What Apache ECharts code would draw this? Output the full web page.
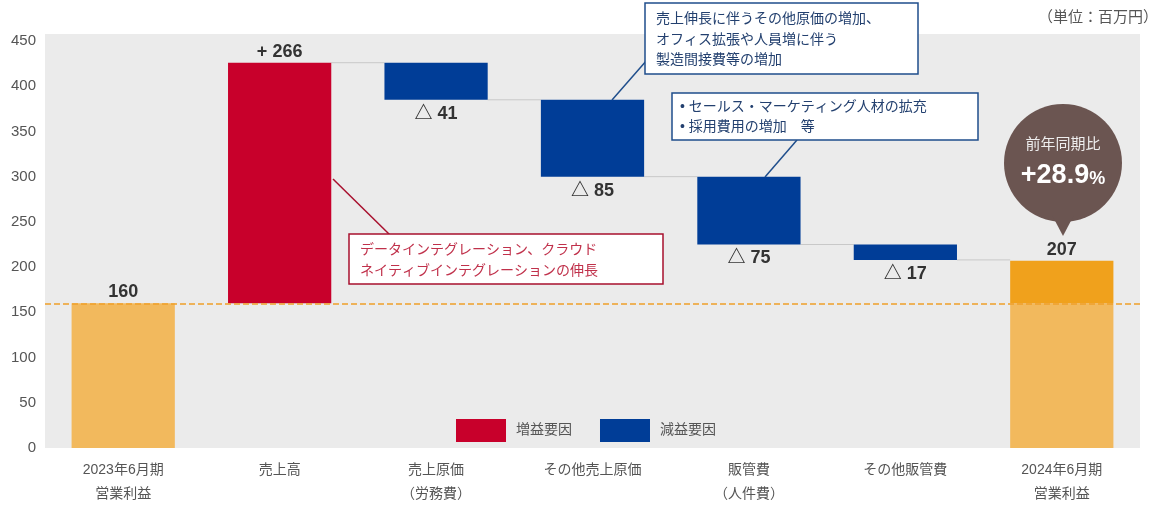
<!DOCTYPE html>
<html><head><meta charset="utf-8">
<script src="https://cdn.jsdelivr.net/npm/echarts@6/dist/echarts.min.js"></script>
<style>html,body{margin:0;padding:0;background:#fff}#c{width:1150px;height:510px}</style>
</head><body><div id="c"></div>
<script>
const categories = ['2023年6月期\n営業利益','売上高','売上原価\n（労務費）','その他売上原価','販管費\n（人件費）','その他販管費','2024年6月期\n営業利益'];
const startValue = 160;
const deltas = [266, -41, -85, -75, -17];
const endValue = 207;
const yTicks = {min: 0, max: 450, interval: 50};

const FONT = '"Liberation Sans", "Noto Sans CJK JP", sans-serif';
const RED = '#C8002B', BLUE = '#003D97', ORANGE_L = '#F2B95D', ORANGE_D = '#F0A11C';

// build waterfall stacks
const n = categories.length;
const base = Array(n).fill('-'), inc = Array(n).fill('-'), dec = Array(n).fill('-');
const totL = Array(n).fill('-'), totD = Array(n).fill('-');
const connectors = [];
let run = startValue;
totL[0] = {value: startValue, label: {show: true, formatter: String(startValue)}};
deltas.forEach((d, k) => {
  const i = k + 1;
  if (d >= 0) { base[i] = run; inc[i] = d; run += d; }
  else { run += d; base[i] = run; dec[i] = -d; }
  connectors.push([i, run]);
});
totL[n-1] = {value: startValue, label: {show: false}};
totD[n-1] = endValue - startValue;

const chart = echarts.init(document.getElementById('c'), null, {renderer: 'canvas', width: 1150, height: 510});
const labelStyle = {fontFamily: FONT, fontSize: 18, fontWeight: 'bold', color: '#333'};
chart.setOption({
  animation: false,
  textStyle: {fontFamily: FONT},
  grid: {left: 45, width: 1095, top: 41, height: 407, containLabel: false},
  legend: {
    left: 451, top: 414, itemWidth: 50, itemHeight: 23, itemGap: 28,
    data: ['増益要因', '減益要因'],
    textStyle: {fontFamily: FONT, fontSize: 14, color: '#555', padding: [0, 0, 0, 5]},
    icon: 'rect', selectedMode: false
  },
  xAxis: {
    type: 'category', data: categories,
    axisLine: {show: false}, axisTick: {show: false},
    axisLabel: {color: '#555', fontSize: 14, lineHeight: 24, margin: 10, fontFamily: FONT}
  },
  yAxis: {
    type: 'value', min: yTicks.min, max: yTicks.max, interval: yTicks.interval,
    splitLine: {show: false}, axisLine: {show: false}, axisTick: {show: false},
    axisLabel: {color: '#555', fontSize: 15, margin: 9, fontFamily: FONT}
  },
  series: [
    {type: 'bar', name: 'base', stack: 'w', data: base, barWidth: '66%', itemStyle: {color: 'transparent'}, silent: true},
    {type: 'bar', name: '増益要因', stack: 'w', data: inc, itemStyle: {color: RED},
      label: {show: true, position: 'top', distance: 2, formatter: p => '+ ' + p.value, ...labelStyle}},
    {type: 'bar', name: '減益要因', stack: 'w', data: dec, itemStyle: {color: BLUE},
      label: {show: true, position: 'bottom', distance: 5, formatter: p => '△ ' + p.value, ...labelStyle}},
    {type: 'bar', name: 'total', stack: 'w', data: totL, itemStyle: {color: ORANGE_L},
      label: {position: 'top', distance: 2, ...labelStyle},
      markLine: {silent: true, symbol: 'none', label: {show: false}, z: 10, emphasis: {disabled: true},
        lineStyle: {color: '#EFA02A', type: [6, 3], width: 1.5, opacity: 1}, data: [{yAxis: startValue}]}},
    {type: 'bar', name: 'totalInc', stack: 'w', data: totD, itemStyle: {color: ORANGE_D},
      label: {show: true, position: 'top', distance: 2, formatter: () => String(endValue), ...labelStyle}},
    {type: 'custom', name: 'conn', data: connectors, silent: true, z: 1,
      renderItem: (params, api) => {
        const p = api.coord([api.value(0), api.value(1)]);
        const cw = api.size([1, 0])[0];
        const bw = cw * 0.66;
        return {type: 'line', shape: {x1: p[0] + bw/2, y1: p[1], x2: p[0] + cw - bw/2, y2: p[1]},
          style: {stroke: '#C8C8C8', lineWidth: 1}};
      }}
  ],
  graphic: [
    {type: 'rect', z: -10, silent: true, shape: {x: 45, y: 34, width: 1095, height: 414}, style: {fill: '#EBEBEB'}},
    {type: 'text', left: 1038, top: 10, style: {text: '（単位：百万円）', font: '15px ' + FONT, fill: '#555'}},
    // red annotation
    {type: 'line', shape: {x1: 333, y1: 179, x2: 390, y2: 235}, style: {stroke: '#A8102E', lineWidth: 1.5}, z: 20},
    {type: 'rect', shape: {x: 349, y: 234, width: 314, height: 50}, style: {fill: '#fff', stroke: '#A8102E', lineWidth: 1.5}, z: 20},
    {type: 'text', x: 360, y: 240, z: 21, style: {text: 'データインテグレーション、クラウド\nネイティブインテグレーションの伸長', font: '14px ' + FONT, fill: '#C0314B', lineHeight: 21}},
    // blue annotation 1
    {type: 'line', shape: {x1: 612, y1: 100, x2: 647, y2: 60}, style: {stroke: '#1F4E8C', lineWidth: 1.5}, z: 20},
    {type: 'rect', shape: {x: 645, y: 3, width: 273, height: 71}, style: {fill: '#fff', stroke: '#1F4E8C', lineWidth: 1.5}, z: 20},
    {type: 'text', x: 656, y: 9, z: 21, style: {text: '売上伸長に伴うその他原価の増加、\nオフィス拡張や人員増に伴う\n製造間接費等の増加', font: '14px ' + FONT, fill: '#23406F', lineHeight: 20.5}},
    // blue annotation 2
    {type: 'line', shape: {x1: 797, y1: 140, x2: 765, y2: 177}, style: {stroke: '#1F4E8C', lineWidth: 1.5}, z: 20},
    {type: 'rect', shape: {x: 672, y: 93, width: 306, height: 47}, style: {fill: '#fff', stroke: '#1F4E8C', lineWidth: 1.5}, z: 20},
    {type: 'text', x: 680, y: 97, z: 21, style: {text: '• セールス・マーケティング人材の拡充\n• 採用費用の増加　等', font: '14px ' + FONT, fill: '#23406F', lineHeight: 20}},
    // bubble
    {type: 'circle', shape: {cx: 1063, cy: 163, r: 59}, style: {fill: '#6B5551'}, z: 20},
    {type: 'polygon', shape: {points: [[1052, 215], [1074, 215], [1063, 236]]}, style: {fill: '#6B5551'}, z: 20},
    {type: 'text', x: 1063, y: 145, z: 21, style: {text: '前年同期比', font: '15px ' + FONT, fill: '#EEE', align: 'center', verticalAlign: 'middle'}},
    {type: 'text', x: 1063, y: 176, z: 21, style: {
      text: '{a|+28.9}{b|%}', align: 'center', verticalAlign: 'middle',
      rich: {a: {font: 'bold 27px ' + FONT, fill: '#fff', color: '#fff'}, b: {font: 'bold 18px ' + FONT, color: '#fff', fill: '#fff', padding: [6, 0, 0, 0]}}}}
  ]
});
</script></body></html>
